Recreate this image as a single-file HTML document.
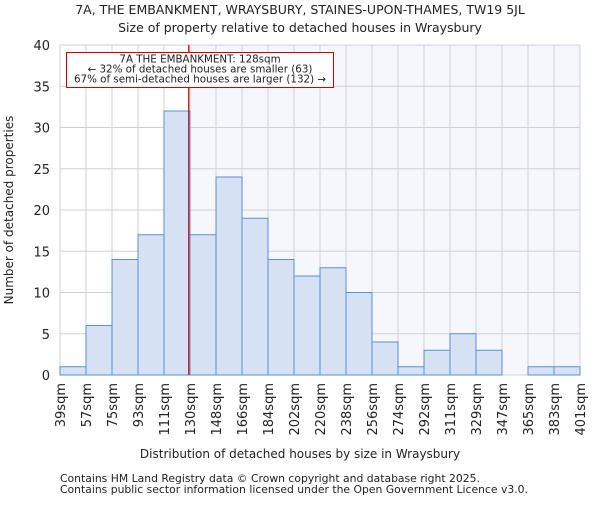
<!DOCTYPE html>
<html><head><meta charset="utf-8"><style>
body{margin:0;background:#fff}
text{font-family:"DejaVu Sans","Liberation Sans",sans-serif;fill:#222}
</style></head><body>
<svg id="c" width="600" height="500" xmlns="http://www.w3.org/2000/svg">
<text x="300" y="14" font-size="12.5" text-anchor="middle">7A, THE EMBANKMENT, WRAYSBURY, STAINES-UPON-THAMES, TW19 5JL</text>
<text x="300" y="32" font-size="12.5" text-anchor="middle">Size of property relative to detached houses in Wraysbury</text>
<g id="plot"></g>
<text x="300" y="458" font-size="12" text-anchor="middle">Distribution of detached houses by size in Wraysbury</text>
<text transform="translate(13,210) rotate(-90)" font-size="12" text-anchor="middle">Number of detached properties</text>
<text x="60" y="482" font-size="10.8">Contains HM Land Registry data © Crown copyright and database right 2025.</text>
<text x="60" y="493" font-size="10.8">Contains public sector information licensed under the Open Government Licence v3.0.</text>
</svg>
<script>
const categories=["39sqm","57sqm","75sqm","93sqm","111sqm","130sqm","148sqm","166sqm","184sqm","202sqm","220sqm","238sqm","256sqm","274sqm","292sqm","311sqm","329sqm","347sqm","365sqm","383sqm","401sqm"];
const edges=[39,57,75,93,111,130,148,166,184,202,220,238,256,274,292,311,329,347,365,383,401];
const counts=[1,6,14,17,32,17,24,19,14,12,13,10,4,1,3,5,3,0,1,1];
const yTicks=[0,5,10,15,20,25,30,35,40];
const propertySize=128;
const annotation=["7A THE EMBANKMENT: 128sqm","← 32% of detached houses are smaller (63)","67% of semi-detached houses are larger (132) →"];
const X0=60,X1=580,Y0=375,Y1=45,YMAX=40;
const bw=(X1-X0)/counts.length;
const xi=i=>X0+i*bw;
const y=v=>Y0-(v/YMAX)*(Y0-Y1);
function xs(v){for(let i=0;i<edges.length-1;i++){if(v<=edges[i+1])return xi(i)+bw*(v-edges[i])/(edges[i+1]-edges[i]);}return X1;}
const NS="http://www.w3.org/2000/svg",g=document.getElementById('plot');
function el(t,a,p){const e=document.createElementNS(NS,t);for(const k in a)e.setAttribute(k,a[k]);(p||g).appendChild(e);return e;}
const lx=xs(propertySize)+1.5;
let e=el('rect',{x:X0,y:Y1,width:X1-X0,height:Y0-Y1,fill:'#fff'});


e=el('rect',{x:lx,y:Y1,width:X1-lx,height:Y0-Y1,fill:'#f5f7fd'});


for(let i=0;i<=counts.length;i++){e=el('line',{x1:xi(i),x2:xi(i),y1:Y1,y2:Y0,stroke:'#d0d0d0','stroke-width':1});

}
yTicks.forEach(t=>{e=el('line',{x1:X0,x2:X1,y1:y(t),y2:y(t),stroke:'#d0d0d0','stroke-width':1});


e=el('text',{x:X0-10,y:y(t)+5,'font-size':13,'text-anchor':'end'});e.textContent=t;

});
counts.forEach((c,i)=>{if(c<=0)return;e=el('rect',{x:xi(i),y:y(c),width:bw,height:Y0-y(c),fill:'#d6e2f3',stroke:'#5b8fd6','stroke-width':1});

});
categories.forEach((c,i)=>{e=el('text',{transform:`translate(${xi(i)+5},${Y0+8}) rotate(-90)`,'font-size':13,'text-anchor':'end'});e.textContent=c;

});
e=el('line',{x1:lx,x2:lx,y1:Y1,y2:Y0,stroke:'#cc0000','stroke-width':1.2});


e=el('rect',{x:66.5,y:52.5,width:267,height:35,fill:'#fff',stroke:'#cc0000','stroke-width':1});


annotation.forEach((s,k)=>{e=el('text',{x:200,y:62.5+k*10,'font-size':10.3,'text-anchor':'middle'});e.textContent=s;

});
</script>
</body></html>
